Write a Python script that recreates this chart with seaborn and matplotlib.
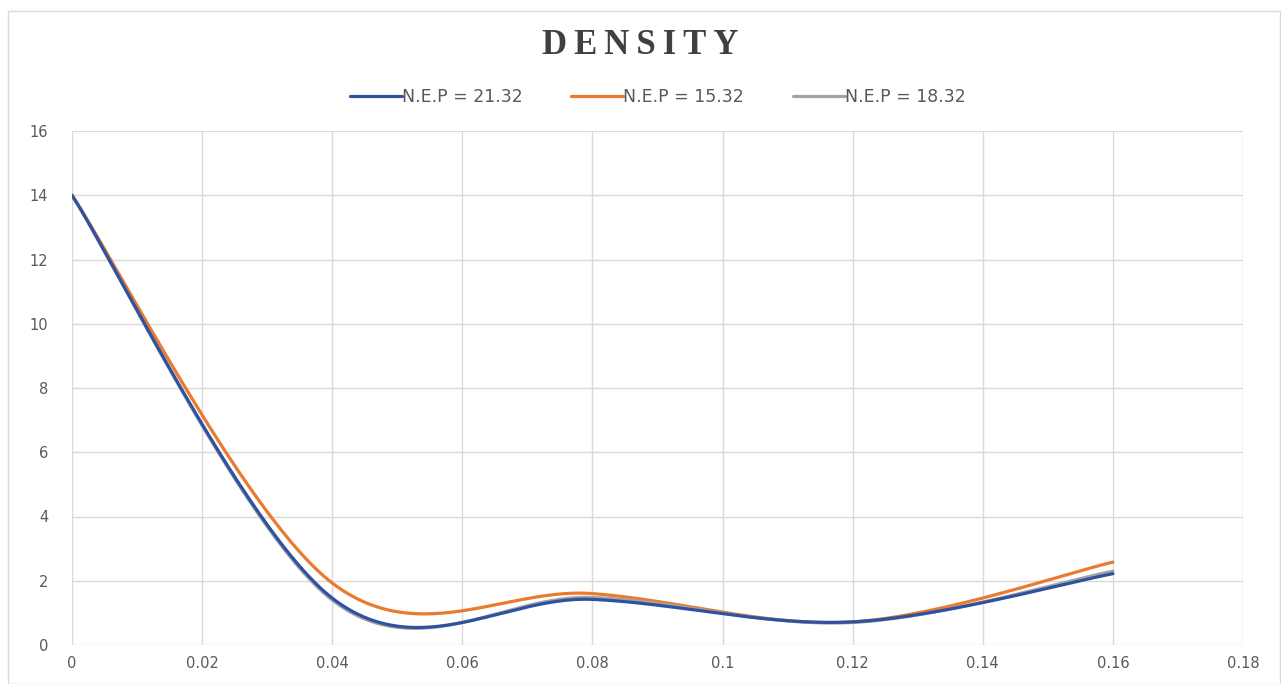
import numpy as np
import pandas as pd
import matplotlib
matplotlib.use("Agg")
import matplotlib.pyplot as plt
import seaborn as sns
from matplotlib.patches import Rectangle

# ---- data ----
x_points = [0.0, 0.04, 0.08, 0.12, 0.16]
nep_21_32 = [14.0, 1.46, 1.42, 0.72, 2.22]
nep_15_32 = [14.0, 1.93, 1.60, 0.72, 2.58]
nep_18_32 = [14.0, 1.40, 1.48, 0.70, 2.30]
series_names = ["N.E.P = 21.32", "N.E.P = 15.32", "N.E.P = 18.32"]
series_values = [nep_21_32, nep_15_32, nep_18_32]
colors = ["#2F52A0", "#E97A2E", "#A3A3A3"]
x_ticks = [0, 0.02, 0.04, 0.06, 0.08, 0.1, 0.12, 0.14, 0.16, 0.18]
x_tick_labels = ["0", "0.02", "0.04", "0.06", "0.08", "0.1", "0.12", "0.14", "0.16", "0.18"]
y_ticks = [0, 2, 4, 6, 8, 10, 12, 14, 16]
title = "DENSITY"


def excel_smooth(xs, ys, n=60):
    """Excel-like smoothed line: cubic Bezier with control points 1/6 of neighbour span."""
    P = np.column_stack([xs, ys]).astype(float)
    m = len(P)
    out = []
    t = np.linspace(0, 1, n)[:, None]
    for i in range(m - 1):
        p0, p1 = P[i], P[i + 1]
        pm = P[i - 1] if i > 0 else P[i]
        p2 = P[i + 2] if i + 2 < m else P[i + 1]
        c1 = p0 + (p1 - pm) / 6.0
        c2 = p1 - (p2 - p0) / 6.0
        seg = ((1 - t) ** 3) * p0 + 3 * ((1 - t) ** 2) * t * c1 + 3 * (1 - t) * t ** 2 * c2 + t ** 3 * p1
        out.append(seg if i == 0 else seg[1:])
    return np.vstack(out)


rows = []
for name, vals in zip(series_names, series_values):
    curve = excel_smooth(x_points, vals)
    for j, (cx, cy) in enumerate(curve):
        rows.append({"x": cx, "y": cy, "series": name, "order": j})
df = pd.DataFrame(rows)

sns.set_theme(style="white")
plt.rcParams["font.family"] = ["DejaVu Sans"]

fig = plt.figure(figsize=(12.81, 6.84), dpi=100)
ax = fig.add_axes([72 / 1281, 39 / 684, (1243 - 72) / 1281, (645 - 131) / 684])

# draw in order so blue is on top of gray like reference
draw_order = [1, 2, 0]
for k in draw_order:
    sub = df[df["series"] == series_names[k]]
    sns.lineplot(data=sub, x="x", y="y", sort=False, color=colors[k], linewidth=2.3,
                 ax=ax, label=series_names[k], estimator=None)

ax.set_xlim(0, 0.18)
ax.set_ylim(0, 16)
ax.set_xticks(x_ticks)
ax.set_xticklabels(x_tick_labels)
ax.set_yticks(y_ticks)
ax.set_xlabel("")
ax.set_ylabel("")
ax.grid(True, color="#D9D9D9", linewidth=1)
for s in ax.spines.values():
    s.set_visible(False)
ax.tick_params(axis="both", length=0, labelsize=10.5, colors="#595959")
ax.tick_params(axis="y", pad=17)
ax.tick_params(axis="x", pad=8)

handles, labels = ax.get_legend_handles_labels()
hmap = dict(zip(labels, handles))
ax.legend([hmap[n] for n in series_names], series_names, loc="center",
          bbox_to_anchor=(0.5, (684 - 97 - 39) / (645 - 131)), ncol=3, frameon=False,
          fontsize=12.5, handlelength=3.0, handletextpad=0.0, columnspacing=2.8,
          labelcolor="#595959")

fig.text(0.5, 1 - 45 / 684, "\u2009".join(title), ha="center", va="center",
         fontsize=25, fontweight="bold", family=["Liberation Serif", "DejaVu Serif"],
         color="#404040")

fig.patches.append(Rectangle((8 / 1281, 0), 1 - 9 / 1281, 1 - 11 / 684, transform=fig.transFigure,
                             fill=False, edgecolor="#D9D9D9", linewidth=1))

fig.savefig("out.png", dpi=100)
